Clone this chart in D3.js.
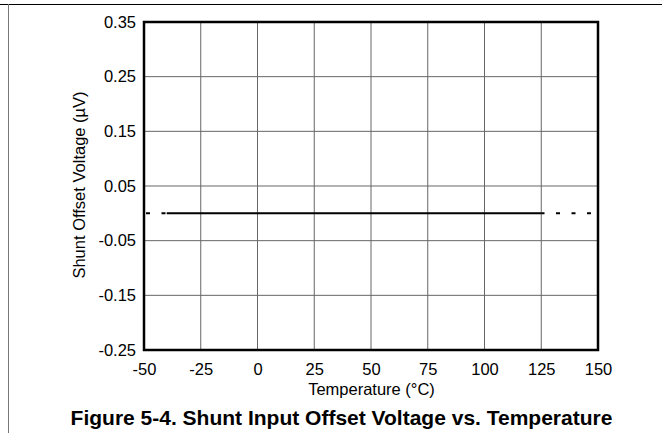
<!DOCTYPE html>
<html>
<head>
<meta charset="utf-8">
<script src="https://cdn.jsdelivr.net/npm/d3@7"></script>
<style>
	body { margin: 0; background: #fff; }
	svg { display: block; font-family: "Liberation Sans", Arial, sans-serif; }
</style>
</head>
<body>
<svg id="chart" width="667" height="433"></svg>
<script>
(function () {

// ticks as printed on the datasheet plot
var tempTicks = [-50, -25, 0, 25, 50, 75, 100, 125, 150];
var offsetTicks = [-0.25, -0.15, -0.05, 0.05, 0.15, 0.25, 0.35];
var offsetTickLabels = ['-0.25', '-0.15', '-0.05', '0.05', '0.15', '0.25', '0.35'];

// measured curve (specified range) and dotted extrapolation
var temperature = [-40, 125];
var offset = [0, 0];
var extLeftTemp = [-50, -40];
var extLeftOffset = [0, 0];
var extRightTemp = [150, 125];
var extRightOffset = [0, 0];

var caption = 'Figure 5-4. Shunt Input Offset Voltage vs. Temperature';

var svg = d3.select('#chart');
var fs = 16.5;

var x = d3.scaleLinear().domain([-50, 150]).range([144, 598]);
var y = d3.scaleLinear().domain([-0.25, 0.35]).range([350, 22]);

// page frame lines
svg.append('line').attr('x1', 0).attr('x2', 662).attr('y1', 4.5).attr('y2', 4.5)
	.attr('stroke', '#000').attr('stroke-width', 1.2);
svg.append('line').attr('x1', 8.5).attr('x2', 8.5).attr('y1', 4).attr('y2', 433)
	.attr('stroke', '#777').attr('stroke-width', 1);

// grid
svg.append('g').selectAll('line').data(tempTicks.slice(1, -1)).enter().append('line')
	.attr('x1', function (d) { return x(d); }).attr('x2', function (d) { return x(d); })
	.attr('y1', y(0.35)).attr('y2', y(-0.25))
	.attr('stroke', '#666').attr('stroke-width', 1);
svg.append('g').selectAll('line').data(offsetTicks.slice(1, -1)).enter().append('line')
	.attr('x1', x(-50)).attr('x2', x(150))
	.attr('y1', function (d) { return y(d); }).attr('y2', function (d) { return y(d); })
	.attr('stroke', '#666').attr('stroke-width', 1);

// plot frame
svg.append('rect').attr('x', x(-50)).attr('y', y(0.35))
	.attr('width', x(150) - x(-50)).attr('height', y(-0.25) - y(0.35))
	.attr('fill', 'none').attr('stroke', '#000').attr('stroke-width', 2.5);

// axes (labels only, the frame is drawn above)
var yAxis = d3.axisLeft(y).tickValues(offsetTicks).tickSize(0).tickPadding(8)
	.tickFormat(function (d, i) { return offsetTickLabels[i]; });
var gy = svg.append('g').attr('transform', 'translate(' + x(-50) + ',0)').call(yAxis);
gy.attr('font-size', fs).attr('font-family', null);
gy.select('.domain').remove();
gy.selectAll('text').attr('fill', '#000');

var xAxis = d3.axisBottom(x).tickValues(tempTicks).tickSize(0).tickPadding(13)
	.tickFormat(function (d) { return String(d); });
var gx = svg.append('g').attr('transform', 'translate(0,' + y(-0.25) + ')').call(xAxis);
gx.attr('font-size', fs).attr('font-family', null);
gx.select('.domain').remove();
gx.selectAll('text').attr('fill', '#000');

// axis titles
svg.append('text').attr('x', 371.5).attr('y', 394.5).attr('text-anchor', 'middle')
	.attr('font-size', fs).text('Temperature (\u00B0C)');
svg.append('text').attr('transform', 'translate(84.5,185) rotate(-90)')
	.attr('text-anchor', 'middle').attr('font-size', fs)
	.text('Shunt Offset Voltage (\u00B5V)');

// data
var line = d3.line()
	.x(function (d) { return x(d[0]); })
	.y(function (d) { return y(d[1]); });

svg.append('path').datum(d3.zip(temperature, offset))
	.attr('d', line).attr('fill', 'none').attr('stroke', '#000').attr('stroke-width', 2);

svg.append('path').datum(d3.zip(extLeftTemp, extLeftOffset))
	.attr('d', line).attr('fill', 'none').attr('stroke', '#000').attr('stroke-width', 2)
	.attr('stroke-dasharray', '4 11.5').attr('stroke-dashoffset', 13.5);
svg.append('path').datum(d3.zip(extRightTemp, extRightOffset))
	.attr('d', line).attr('fill', 'none').attr('stroke', '#000').attr('stroke-width', 2)
	.attr('stroke-dasharray', '4 11.5').attr('stroke-dashoffset', 8.5);

// caption
svg.append('text').attr('x', 341.5).attr('y', 425).attr('text-anchor', 'middle')
	.attr('font-size', 21).attr('font-weight', 'bold').text(caption);

})();
</script>
</body>
</html>
